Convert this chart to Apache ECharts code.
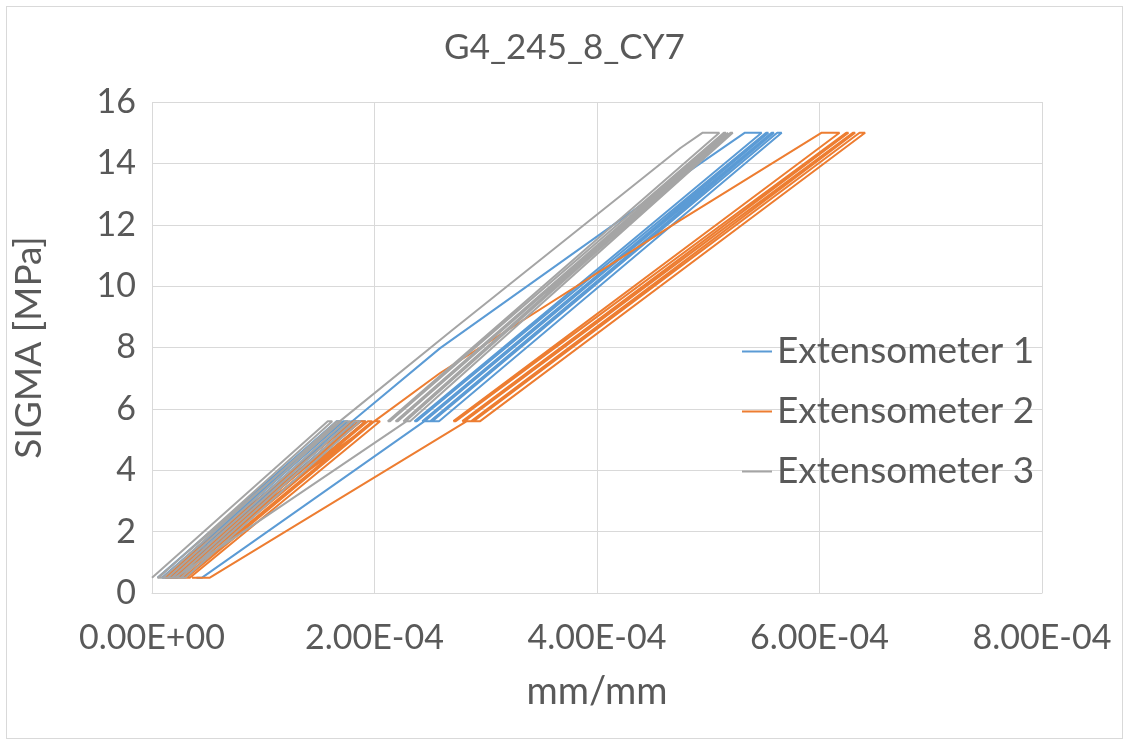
<!DOCTYPE html>
<html>
<head>
<meta charset="utf-8">
<title>G4_245_8_CY7</title>
<script src="https://cdn.jsdelivr.net/npm/echarts@6.0.0/dist/echarts.min.js"></script>
<style>
  html, body { margin: 0; padding: 0; background: #ffffff; }
  #wrap { position: relative; width: 1129px; height: 745px; overflow: hidden; }
  #frame { position: absolute; left: 6px; top: 6px; right: 6px; bottom: 6px; border: 1px solid #d9d9d9; pointer-events: none; }
  #chart { position: absolute; left: 0; top: 0; width: 1129px; height: 745px; }
</style>
</head>
<body>
<div id="wrap">
  <div id="chart"></div>
  <div id="frame"></div>
</div>
<script>
// Chart title and axis names
const chartTitle = 'G4_245_8_CY7';
const xAxisName = 'mm/mm';
const yAxisName = 'SIGMA [MPa]';
const seriesNames = ['Extensometer 1', 'Extensometer 2', 'Extensometer 3'];
const seriesColors = ['#5B9BD5', '#ED7D31', '#A5A5A5'];

// Axis ranges
const xMin = 0, xMax = 8e-4, xStep = 2e-4;
const yMin = 0, yMax = 16, yStep = 2;

// Strain values below are stored in units of 1e-4 mm/mm
const STRAIN_UNIT = 1e-4;

// Extensometer 1: [strain (x1e-4), stress MPa], in loading order
const ext1 = [
  [0.05, 0.5], [1.66, 5.6], [1.70, 5.6], [0.09, 0.5], [0.12, 0.5],
  [1.72, 5.6], [1.76, 5.6], [0.14, 0.5], [0.17, 0.5], [1.79, 5.6],
  [1.83, 5.6], [0.19, 0.5], [0.21, 0.5], [1.86, 5.6], [1.92, 5.6],
  [0.23, 0.5], [0.10, 0.5],
  [1.80, 5.6], [2.59, 7.98], [4.75, 13.55], [5.33, 15.0], [5.48, 15.0],
  [2.36, 5.6], [2.38, 5.6], [5.52, 15.0], [5.54, 15.0],
  [2.43, 5.6], [2.45, 5.6], [5.57, 15.0], [5.59, 15.0],
  [2.50, 5.6], [2.52, 5.6], [5.62, 15.0], [5.66, 15.0],
  [2.58, 5.6], [2.45, 5.6],
  [0.45, 0.5], [0.40, 0.5]
];

// Extensometer 2
const ext2 = [
  [0.10, 0.5], [1.81, 5.6], [1.86, 5.6], [0.15, 0.5], [0.19, 0.5],
  [1.88, 5.6], [1.92, 5.6], [0.22, 0.5], [0.25, 0.5], [1.94, 5.6],
  [1.98, 5.6], [0.28, 0.5], [0.31, 0.5], [2.00, 5.6], [2.05, 5.6],
  [0.34, 0.5], [0.12, 0.5],
  [2.00, 5.6], [2.59, 7.17], [4.75, 12.15], [6.02, 15.0], [6.18, 15.0],
  [2.71, 5.6], [2.73, 5.6], [6.24, 15.0], [6.26, 15.0],
  [2.79, 5.6], [2.81, 5.6], [6.30, 15.0], [6.32, 15.0],
  [2.87, 5.6], [2.89, 5.6], [6.36, 15.0], [6.41, 15.0],
  [2.95, 5.6], [2.83, 5.6],
  [0.52, 0.5], [0.36, 0.5]
];

// Extensometer 3
const ext3 = [
  [0.00, 0.5], [1.58, 5.6], [1.62, 5.6], [0.06, 0.5], [0.10, 0.5],
  [1.66, 5.6], [1.70, 5.6], [0.14, 0.5], [0.18, 0.5], [1.74, 5.6],
  [1.78, 5.6], [0.22, 0.5], [0.26, 0.5], [1.82, 5.6], [1.87, 5.6],
  [0.30, 0.5], [0.05, 0.5],
  [1.69, 5.6], [2.70, 8.57], [4.75, 14.5], [4.95, 15.0], [5.10, 15.0],
  [2.12, 5.6], [2.14, 5.6], [5.14, 15.0], [5.16, 15.0],
  [2.19, 5.6], [2.21, 5.6], [5.18, 15.0], [5.19, 15.0],
  [2.26, 5.6], [2.28, 5.6], [5.20, 15.0], [5.22, 15.0],
  [2.32, 5.6], [2.29, 5.6],
  [0.21, 0.5], [0.15, 0.5]
];

const seriesData = [ext1, ext2, ext3];

// Excel-style scientific label, e.g. 2.00E-04
function sciLabel(v) {
  if (v === 0) return '0.00E+00';
  const s = v.toExponential(2);
  const parts = s.split('e');
  const exp = parseInt(parts[1], 10);
  const sign = exp < 0 ? '-' : '+';
  const mag = String(Math.abs(exp)).padStart(2, '0');
  return parts[0] + 'E' + sign + mag;
}

const textColor = '#595959';
const gridColor = '#d9d9d9';
const fontFamily = 'Lato, "Open Sans", sans-serif';

const chart = echarts.init(document.getElementById('chart'), null, { renderer: 'canvas' });

chart.setOption({
  animation: false,
  backgroundColor: 'transparent',
  title: {
    text: chartTitle,
    left: 'center',
    top: 25,
    textStyle: { color: textColor, fontSize: 35, fontWeight: 'normal', fontFamily: fontFamily }
  },
  legend: {
    orient: 'vertical',
    left: 742,
    top: 333,
    padding: 0,
    itemGap: 23,
    itemWidth: 30,
    itemHeight: 2,
    icon: 'rect',
    textStyle: { color: textColor, fontSize: 37, fontFamily: fontFamily },
    data: seriesNames
  },
  grid: { left: 152, right: 87, top: 102, bottom: 152, containLabel: false },
  xAxis: {
    type: 'value',
    min: xMin, max: xMax, interval: xStep,
    name: xAxisName,
    nameLocation: 'middle',
    nameGap: 80,
    nameTextStyle: { color: textColor, fontSize: 38, fontFamily: fontFamily },
    axisLine: { show: true, lineStyle: { color: gridColor, width: 1 } },
    axisTick: { show: false },
    axisLabel: { color: textColor, fontSize: 34, fontFamily: fontFamily, margin: 28, formatter: sciLabel },
    splitLine: { show: true, lineStyle: { color: gridColor, width: 1 } }
  },
  yAxis: {
    type: 'value',
    min: yMin, max: yMax, interval: yStep,
    name: yAxisName,
    nameLocation: 'middle',
    nameGap: 104,
    nameRotate: 90,
    nameTextStyle: { color: textColor, fontSize: 37, fontFamily: fontFamily },
    axisLine: { show: false },
    axisTick: { show: false },
    axisLabel: { color: textColor, fontSize: 34, fontFamily: fontFamily, margin: 16 },
    splitLine: { show: true, lineStyle: { color: gridColor, width: 1 } }
  },
  series: seriesData.map((pts, i) => ({
    name: seriesNames[i],
    type: 'line',
    data: pts.map(p => [p[0] * STRAIN_UNIT, p[1]]),
    showSymbol: false,
    symbol: 'none',
    smooth: false,
    color: seriesColors[i],
    lineStyle: { color: seriesColors[i], width: 2 }
  }))
});
</script>
</body>
</html>
